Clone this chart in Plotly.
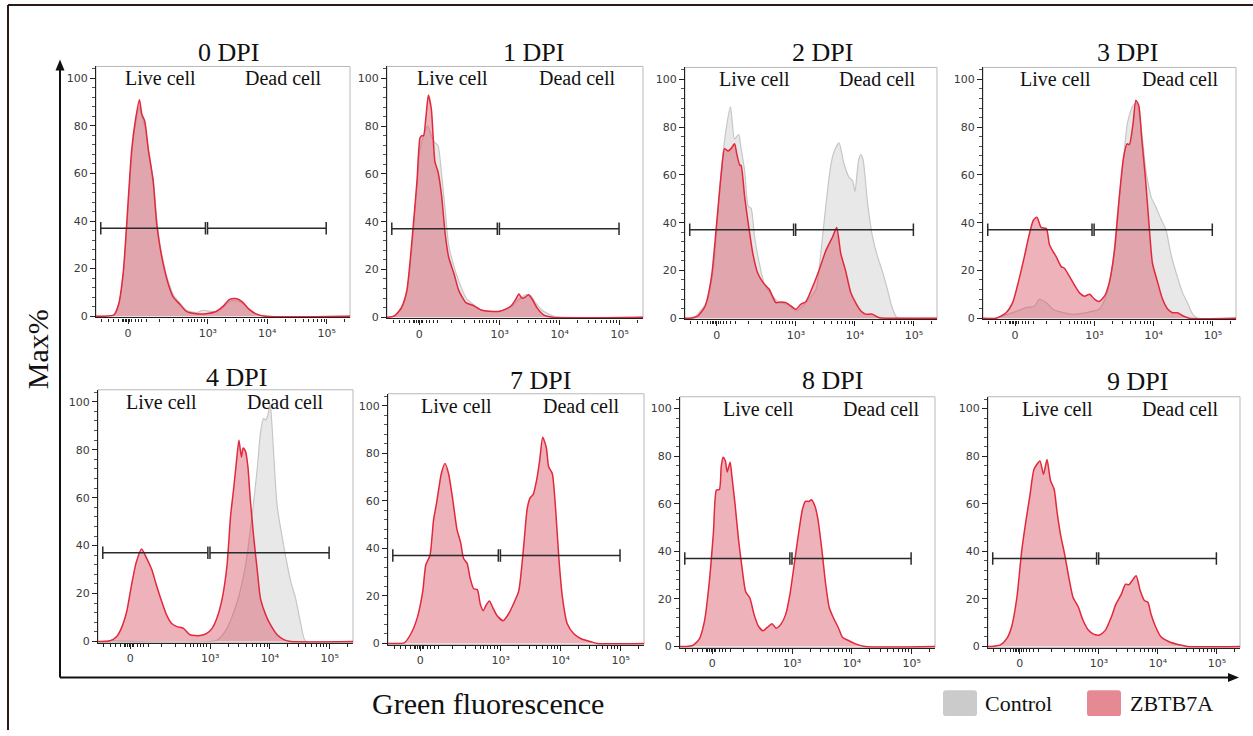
import plotly.graph_objects as go

W, H = 1253, 736

PANEL_TITLES = ["0 DPI", "1 DPI", "2 DPI", "3 DPI", "4 DPI", "7 DPI", "8 DPI", "9 DPI"]

# Green fluorescence on a biexponential display scale (3 = 10^3, 4 = 10^4 ...),
# counts as % of max.
X0R = [1.12, 1.25, 1.42, 1.50, 1.58, 1.67, 1.72, 1.78, 1.85, 1.89, 1.94, 2.00, 2.08, 2.14, 2.19, 2.25,
       2.33, 2.42, 2.53, 2.64, 2.81, 2.97, 3.14, 3.25, 3.36, 3.47, 3.58, 3.69, 3.81, 3.97, 5.39]
Y0R = [0, 0, 0.5, 5, 19, 52, 70, 82, 91, 85, 82, 70, 57, 39, 30, 22,
       14, 8, 5, 2, 1, 1, 2, 4, 7, 7.4, 6, 3, 1, 0, 0]
X0C = [1.12, 1.25, 1.42, 1.50, 1.58, 1.67, 1.72, 1.78, 1.85, 1.89, 1.94, 2.00, 2.08, 2.14, 2.19, 2.25,
       2.33, 2.42, 2.53, 2.64, 2.81, 2.92, 3.0, 3.14, 3.25, 3.36, 3.47, 3.58, 3.69, 3.81, 3.97, 5.39]
Y0C = [0, 0, 0.5, 4.5, 18, 50, 68, 80, 88, 84, 80, 70, 58, 41, 31, 23,
       15, 9, 5.5, 2.5, 1.5, 2.5, 2.2, 2, 3.5, 6, 6.5, 5.5, 3, 1, 0, 0]

X1R = [1.12, 1.14, 1.25, 1.36, 1.45, 1.50, 1.56, 1.62, 1.67, 1.70, 1.73, 1.77, 1.81, 1.86, 1.92, 1.97,
       2.03, 2.09, 2.15, 2.24, 2.32, 2.44, 2.55, 2.69, 2.83, 3.0, 3.11, 3.20, 3.27, 3.32, 3.37, 3.42,
       3.48, 3.54, 3.62, 3.73, 3.88, 5.39]
Y1R = [0, 0, 0.7, 4, 11, 22, 39, 57, 75, 76, 76, 84, 93, 87, 65, 61,
       51, 35, 25, 18, 11, 6, 5, 3, 2.5, 2.5, 3.5, 5, 7.6, 9.7, 8, 8.3,
       9.4, 7.6, 4, 1, 0, 0]
X1C = [1.12, 1.14, 1.25, 1.36, 1.45, 1.50, 1.56, 1.62, 1.67, 1.73, 1.80, 1.86, 1.92, 1.97, 2.03, 2.09,
       2.15, 2.24, 2.32, 2.44, 2.55, 2.69, 2.83, 3.0, 3.11, 3.20, 3.30, 3.37, 3.45, 3.52, 3.60, 3.70,
       3.80, 3.92, 5.39]
Y1C = [0, 0, 0.6, 3.5, 10, 20, 36, 55, 70, 76, 80, 76, 73, 72, 60, 45,
       30, 21, 15, 8, 5.5, 3, 2.5, 2.5, 3.5, 4.5, 7, 8.5, 9.5, 9, 6, 3,
       1.5, 0.3, 0]

X2R = [1.12, 1.20, 1.34, 1.46, 1.57, 1.65, 1.74, 1.79, 1.85, 1.90, 1.96, 2.00, 2.05, 2.07, 2.13, 2.19,
       2.27, 2.35, 2.44, 2.55, 2.66, 2.75, 2.83, 2.92, 3.0, 3.08, 3.17, 3.28, 3.39, 3.51, 3.62, 3.69,
       3.76, 3.84, 3.93, 4.01, 4.10, 4.18, 4.29, 4.40, 4.52, 5.39]
Y2R = [0, 0, 1, 5, 17.5, 38, 62, 71, 70, 71, 73, 68.5, 64, 64, 51, 40,
       27, 19, 15, 12, 6.5, 6.8, 6.5, 5, 3.7, 5.8, 7, 13, 20, 28.5, 34, 38,
       27, 20, 10.6, 6.5, 3, 1.7, 1.7, 0.3, 0, 0]
X2C = [1.12, 1.26, 1.48, 1.60, 1.71, 1.81, 1.89, 1.96, 2.03, 2.07, 2.13, 2.19, 2.24, 2.30, 2.38, 2.47,
       2.58, 2.72, 2.86, 3.0, 3.11, 3.22, 3.34, 3.42, 3.51, 3.59, 3.65, 3.73, 3.81, 3.90, 3.96, 4.0,
       4.06, 4.10, 4.14, 4.21, 4.29, 4.38, 4.46, 4.55, 4.63, 4.71, 4.80, 5.39]
Y2C = [0, 0, 6.5, 20, 55, 78, 88.5, 75, 77, 71, 62, 47, 46, 34, 23, 14,
       10, 6.5, 5.8, 3, 5, 8, 12, 27, 48, 64, 70, 73.4, 65, 59, 57.5, 53,
       66, 68.5, 66, 49, 35, 26, 20, 12, 4.4, 0.3, 0, 0]

X3R = [1.12, 1.34, 1.51, 1.62, 1.74, 1.82, 1.90, 1.97, 2.03, 2.10, 2.19, 2.24, 2.30, 2.35, 2.44, 2.49,
       2.58, 2.66, 2.75, 2.83, 2.92, 3.0, 3.08, 3.17, 3.25, 3.34, 3.42, 3.49, 3.55, 3.59, 3.65, 3.70,
       3.75, 3.80, 3.86, 3.92, 3.98, 4.07, 4.15, 4.24, 4.32, 4.40, 4.49, 4.60, 5.39]
Y3R = [0, 0, 2.3, 6.5, 17.5, 26, 35, 41, 42.3, 38, 37.5, 31, 28, 26, 21.6, 21,
       17.5, 14, 10.6, 9.2, 10, 8, 7, 9.2, 14.8, 28.5, 50.6, 67, 73, 72.7, 81, 91.3,
       89, 75, 59, 40, 23, 14.8, 8, 3.7, 2.3, 2.3, 1, 0, 0]
X3C = [1.12, 1.34, 1.62, 1.85, 1.99, 2.07, 2.19, 2.30, 2.47, 2.64, 2.86, 3.08, 3.20, 3.31, 3.39, 3.48,
       3.56, 3.65, 3.71, 3.79, 3.87, 3.96, 4.04, 4.12, 4.21, 4.29, 4.38, 4.49, 4.57, 4.66, 4.74, 5.39]
Y3C = [0, 0, 2.3, 4.4, 5, 7.9, 6.5, 3.7, 2.3, 1.6, 2.3, 3.7, 9.2, 23, 43.7, 64,
       82, 89, 90, 79.6, 61.7, 50.6, 46.5, 41.7, 36.8, 27, 19, 10.6, 6.5, 1.6, 0, 0]

X4R = [1.12, 1.20, 1.32, 1.43, 1.51, 1.60, 1.68, 1.76, 1.85, 1.93, 2.02, 2.10, 2.19, 2.27, 2.35, 2.44,
       2.55, 2.66, 2.83, 2.94, 3.03, 3.11, 3.20, 3.28, 3.34, 3.39, 3.43, 3.48, 3.52, 3.55, 3.59, 3.63,
       3.67, 3.73, 3.79, 3.84, 3.93, 4.01, 4.12, 4.24, 4.35, 5.39]
Y4R = [0, 0, 0.3, 2, 5.5, 12.4, 23.4, 33, 38.6, 35, 30, 23.4, 16.5, 11, 7.6, 6.2,
       5.5, 2.8, 2.5, 3.4, 5.5, 9.7, 18, 31.7, 52.4, 63.4, 73, 84, 77, 80.7, 79.3, 73,
       59.3, 42.8, 29, 18, 11, 6.9, 2.8, 0.7, 0, 0]
X4C = [1.12, 1.32, 3.11, 3.28, 3.45, 3.59, 3.70, 3.79, 3.84, 3.89, 3.93, 3.97, 4.0, 4.02, 4.07, 4.12,
       4.25, 4.35, 4.43, 4.52, 4.60, 5.39]
Y4C = [0, 0.3, 0.5, 5.5, 16.5, 31.7, 52.4, 73, 87, 93, 92.4, 95, 99, 95, 75, 56.6,
       37.2, 24.8, 17.9, 6.9, 0, 0]

X7R = [1.12, 1.25, 1.39, 1.50, 1.61, 1.70, 1.75, 1.82, 1.88, 1.93, 2.01, 2.07, 2.13, 2.20, 2.27, 2.33,
       2.38, 2.44, 2.49, 2.55, 2.61, 2.66, 2.71, 2.75, 2.81, 2.87, 2.94, 3.04, 3.13, 3.21, 3.30, 3.38,
       3.44, 3.49, 3.54, 3.60, 3.65, 3.70, 3.76, 3.80, 3.86, 3.92, 3.97, 4.03, 4.11, 4.22, 4.34, 4.51,
       4.62, 5.39]
Y7R = [0, 0, 0.3, 4, 11, 22, 33, 37, 52, 59, 71.5, 75.7, 71.5, 60.5, 48, 42.6,
       35.8, 33.7, 27.5, 23, 22.7, 16.5, 13.8, 15.8, 17.9, 15, 11.7, 9.6, 12.4, 16.5, 22, 40,
       56.4, 61.2, 62.6, 68.8, 77, 86.7, 82.5, 74.3, 71.5, 55, 35.8, 19.3, 8.3, 4.1, 2, 0.7,
       0, 0]

X8R = [1.12, 1.22, 1.33, 1.44, 1.53, 1.61, 1.68, 1.73, 1.78, 1.81, 1.84, 1.88, 1.91, 1.96, 1.99, 2.04,
       2.10, 2.16, 2.22, 2.29, 2.36, 2.43, 2.51, 2.58, 2.66, 2.73, 2.81, 2.89, 2.96, 3.03, 3.10, 3.17,
       3.22, 3.28, 3.32, 3.38, 3.43, 3.50, 3.56, 3.62, 3.69, 3.77, 3.84, 3.94, 4.06, 4.22, 5.39]
Y8R = [0, 0, 0.4, 3, 10.7, 27, 48, 65.8, 66, 75.5, 79.6, 78, 73.4, 77.5, 71.3, 60.3,
       45, 32.8, 23, 20.4, 13.5, 8.7, 6.6, 8, 9.6, 7.7, 9.4, 13.5, 21.8, 34, 46.6, 57.6,
       61, 61, 61.7, 59, 53.4, 39.7, 26, 16.3, 12, 8, 3.9, 2.5, 1.1, 0, 0]

X9R = [1.12, 1.16, 1.33, 1.44, 1.52, 1.61, 1.69, 1.76, 1.83, 1.90, 2.00, 2.06, 2.12, 2.18, 2.24, 2.29,
       2.35, 2.42, 2.49, 2.56, 2.65, 2.73, 2.82, 2.91, 3.01, 3.11, 3.21, 3.29, 3.38, 3.45, 3.51, 3.56,
       3.63, 3.70, 3.77, 3.83, 3.88, 3.96, 4.05, 4.19, 4.36, 4.50, 5.39]
Y9R = [0, 0, 0.7, 3.4, 8.3, 20.7, 40, 52.4, 63.4, 74.5, 78, 72.4, 78.6, 69.7, 66.2, 56.6,
       46.9, 38.6, 29, 20.7, 16.6, 11, 6.9, 5.2, 4.8, 6.9, 12.4, 18, 22, 26.2, 26, 27.6,
       29.7, 23.4, 19.3, 18.6, 13.8, 8.3, 4.1, 2, 0.7, 0, 0]

ZBTB7A_X = [X0R, X1R, X2R, X3R, X4R, X7R, X8R, X9R]
ZBTB7A_Y = [Y0R, Y1R, Y2R, Y3R, Y4R, Y7R, Y8R, Y9R]
CONTROL_X = [X0C, X1C, X2C, X3C, X4C, None, None, None]
CONTROL_Y = [Y0C, Y1C, Y2C, Y3C, Y4C, None, None, None]

# axis ticks (display units)
X_TICK_VALS = [1.66, 3, 4, 5]
X_TICK_TEXT = ["0", "10³", "10⁴", "10⁵"]
X_MINOR_VALS = [1.22, 1.33, 1.42, 1.50, 1.56, 1.58, 1.61, 1.64, 1.69, 1.72, 1.78, 1.83, 1.89, 1.97,
                2.19, 2.42, 2.58, 2.67, 2.72, 2.78, 2.83, 2.89, 2.94,
                3.301, 3.477, 3.602, 3.699, 3.778, 3.845, 3.903, 3.954,
                4.301, 4.477, 4.602, 4.699, 4.778, 4.845, 4.903, 4.954, 5.301]
Y_TICK_VALS = [0, 20, 40, 60, 80, 100]

# gates
GATE_Y = 37
LIVE_GATE = (1.20, 2.96)
DEAD_GATE = (2.995, 4.99)
GATE_LABELS = ["Live cell", "Dead cell"]
LABEL_X = [(2.20, 4.28), (2.21, 4.30), (2.30, 4.39), (2.35, 4.46),
           (2.19, 4.26), (2.26, 4.34), (2.43, 4.49), (2.29, 4.39)]

SERIES_NAMES = ["Control", "ZBTB7A"]

# ---- layout geometry (pixels: left, right, top, bottom) ----
BOXES = [(96, 350, 67, 320), (387, 643, 67, 321), (685, 937, 68, 322), (983, 1236, 68, 322),
         (98, 353, 393, 648), (388, 644, 397, 650), (680, 935, 400, 653), (988, 1240, 400, 653)]
TITLE_XY = [(228, 53), (533, 53), (823, 53), (1127, 53),
            (237, 381), (540, 384), (832, 384), (1137, 385)]
X_RANGE = [1.12, 5.39]
Y_RANGE = [-0.5, 105]

SERIF = "Liberation Serif, Times New Roman, serif"
SANS = "DejaVu Sans, Verdana, sans-serif"
RED_LINE = "#e2283b"
RED_FILL = "rgba(214, 72, 92, 0.42)"
GRAY_LINE = "#c6c6c6"
GRAY_FILL = "rgba(190, 190, 190, 0.36)"
AXIS_COLOR = "#222222"
FRAME_COLOR = "#b8b8b8"
INK = "#111111"
TICK_INK = "#3a3a3a"


def px(x):
    return x / W


def py(y):
    return 1 - y / H


fig = go.Figure()
layout = dict(
    width=W, height=H, margin=dict(l=0, r=0, t=0, b=0),
    paper_bgcolor="white", plot_bgcolor="white", showlegend=False,
)
shapes, annotations = [], []

for i, title in enumerate(PANEL_TITLES):
    n = i + 1
    xa = "x" if n == 1 else f"x{n}"
    ya = "y" if n == 1 else f"y{n}"
    xkey = "xaxis" if n == 1 else f"xaxis{n}"
    ykey = "yaxis" if n == 1 else f"yaxis{n}"
    left, right, top, bottom = BOXES[i]

    layout[xkey] = dict(
        domain=[px(left), px(right)], anchor=ya, range=X_RANGE,
        showgrid=False, zeroline=False, showline=True, linecolor=AXIS_COLOR, linewidth=1.3,
        ticks="outside", ticklen=5, tickwidth=1.3, tickcolor=AXIS_COLOR,
        tickmode="array", tickvals=X_TICK_VALS, ticktext=X_TICK_TEXT,
        tickfont=dict(family=SANS, size=11, color=TICK_INK),
        minor=dict(tickmode="array", tickvals=X_MINOR_VALS, ticks="outside",
                   ticklen=3, tickwidth=1, tickcolor=AXIS_COLOR),
        fixedrange=True,
    )
    layout[ykey] = dict(
        domain=[py(bottom), py(top)], anchor=xa, range=Y_RANGE,
        showgrid=False, zeroline=False, showline=True, linecolor=AXIS_COLOR, linewidth=1.3,
        ticks="outside", ticklen=5, tickwidth=1.3, tickcolor=AXIS_COLOR,
        tickmode="array", tickvals=Y_TICK_VALS,
        tickfont=dict(family=SANS, size=11, color=TICK_INK),
        minor=dict(dtick=4, tick0=0, ticks="outside", ticklen=3, tickwidth=1, tickcolor="#555555"),
        fixedrange=True,
    )

    # light frame around the plotting area
    shapes.append(dict(type="rect", xref=f"{xa} domain", yref=f"{ya} domain",
                       x0=0, x1=1, y0=0, y1=1, line=dict(color=FRAME_COLOR, width=1),
                       layer="below"))

    # histograms: control underneath, ZBTB7A on top
    if CONTROL_X[i] is not None:
        assert len(CONTROL_X[i]) == len(CONTROL_Y[i])
        fig.add_trace(go.Scatter(
            x=CONTROL_X[i], y=CONTROL_Y[i], xaxis=xa, yaxis=ya, mode="lines",
            line=dict(color=GRAY_LINE, width=1.2, shape="spline", smoothing=0.6),
            fill="tozeroy", fillcolor=GRAY_FILL, name=SERIES_NAMES[0], hoverinfo="skip"))
    assert len(ZBTB7A_X[i]) == len(ZBTB7A_Y[i])
    fig.add_trace(go.Scatter(
        x=ZBTB7A_X[i], y=ZBTB7A_Y[i], xaxis=xa, yaxis=ya, mode="lines",
        line=dict(color=RED_LINE, width=1.5, shape="spline", smoothing=0.6),
        fill="tozeroy", fillcolor=RED_FILL, name=SERIES_NAMES[1], hoverinfo="skip"))

    # gates with end caps
    cap = 2.6
    gx, gy = [], []
    for a, b in (LIVE_GATE, DEAD_GATE):
        gx += [a, b, None, a, a, None, b, b, None]
        gy += [GATE_Y, GATE_Y, None, GATE_Y - cap, GATE_Y + cap, None,
               GATE_Y - cap, GATE_Y + cap, None]
    fig.add_trace(go.Scatter(x=gx, y=gy, xaxis=xa, yaxis=ya, mode="lines",
                             line=dict(color="#2a2a2a", width=1.5), hoverinfo="skip",
                             showlegend=False))

    # gate labels
    for lbl, lx in zip(GATE_LABELS, LABEL_X[i]):
        annotations.append(dict(text=lbl, x=lx, y=100, xref=xa, yref=ya, showarrow=False,
                                xanchor="center", yanchor="middle",
                                font=dict(family=SERIF, size=20, color=INK)))

    # panel title
    tx, ty = TITLE_XY[i]
    annotations.append(dict(text=title, x=px(tx), y=py(ty), xref="paper", yref="paper",
                            showarrow=False, xanchor="center", yanchor="middle",
                            font=dict(family=SERIF, size=26, color=INK)))

# shared axis arrows (shaft + filled head)
AX_X0, AX_Y0 = 60, 683
AX_TOP, AX_RIGHT = 60, 1239
shapes.append(dict(type="line", xref="paper", yref="paper", x0=px(AX_X0), x1=px(AX_X0),
                   y0=py(AX_Y0), y1=py(AX_TOP + 8), line=dict(color=INK, width=2)))
shapes.append(dict(type="line", xref="paper", yref="paper", x0=px(AX_X0), x1=px(AX_RIGHT - 8),
                   y0=py(AX_Y0), y1=py(AX_Y0), line=dict(color=INK, width=2)))
shapes.append(dict(type="path", xref="paper", yref="paper", fillcolor=INK, line=dict(width=0),
                   path=(f"M {px(AX_X0)},{py(AX_TOP)} L {px(AX_X0 - 4.5)},{py(AX_TOP + 11)} "
                         f"L {px(AX_X0 + 4.5)},{py(AX_TOP + 11)} Z")))
shapes.append(dict(type="path", xref="paper", yref="paper", fillcolor=INK, line=dict(width=0),
                   path=(f"M {px(AX_RIGHT)},{py(AX_Y0)} L {px(AX_RIGHT - 11)},{py(AX_Y0 - 4.5)} "
                         f"L {px(AX_RIGHT - 11)},{py(AX_Y0 + 4.5)} Z")))

# shared axis titles
annotations.append(dict(text="Max%", x=px(37), y=py(352), xref="paper", yref="paper",
                        showarrow=False, textangle=-90, xanchor="center", yanchor="middle",
                        font=dict(family=SERIF, size=30, color=INK)))
annotations.append(dict(text="Green fluorescence", x=px(488), y=py(709), xref="paper",
                        yref="paper", showarrow=False, xanchor="center", yanchor="middle",
                        font=dict(family=SERIF, size=30, color=INK)))


def round_rect(x0, y0, x1, y1, r):
    """Rounded rectangle path in paper coordinates from pixel corners."""
    rx, ry = r / W, r / H
    a0, a1 = px(x0), px(x1)
    b0, b1 = py(y1), py(y0)
    return (f"M {a0 + rx},{b0} L {a1 - rx},{b0} Q {a1},{b0} {a1},{b0 + ry} "
            f"L {a1},{b1 - ry} Q {a1},{b1} {a1 - rx},{b1} L {a0 + rx},{b1} "
            f"Q {a0},{b1} {a0},{b1 - ry} L {a0},{b0 + ry} Q {a0},{b0} {a0 + rx},{b0} Z")


# legend swatches and labels
LEGEND_SWATCH = [(943, 696, 977, 722, "#cbcbcb"), (1087, 696, 1121, 722, "#e58a92")]
LEGEND_TEXT_X = [983, 1128]
for (x0, y0, x1, y1, col), tx, name in zip(LEGEND_SWATCH, LEGEND_TEXT_X, SERIES_NAMES):
    shapes.append(dict(type="path", xref="paper", yref="paper",
                       path=round_rect(x0, y0, x1, y1, 3), fillcolor=col,
                       line=dict(width=0)))
    annotations.append(dict(text=name, x=px(tx), y=py(709), xref="paper", yref="paper",
                            showarrow=False, xanchor="left", yanchor="middle",
                            font=dict(family=SERIF, size=22, color=INK)))

# outer frame (left and top edges)
shapes.append(dict(type="line", xref="paper", yref="paper", x0=px(8), x1=px(8),
                   y0=py(5), y1=0, line=dict(color="#2b1b14", width=2)))
shapes.append(dict(type="line", xref="paper", yref="paper", x0=px(8), x1=1,
                   y0=py(5), y1=py(5), line=dict(color="#2b1b14", width=2)))

layout["shapes"] = shapes
layout["annotations"] = annotations
fig.update_layout(**layout)

fig.write_html("out.html")
